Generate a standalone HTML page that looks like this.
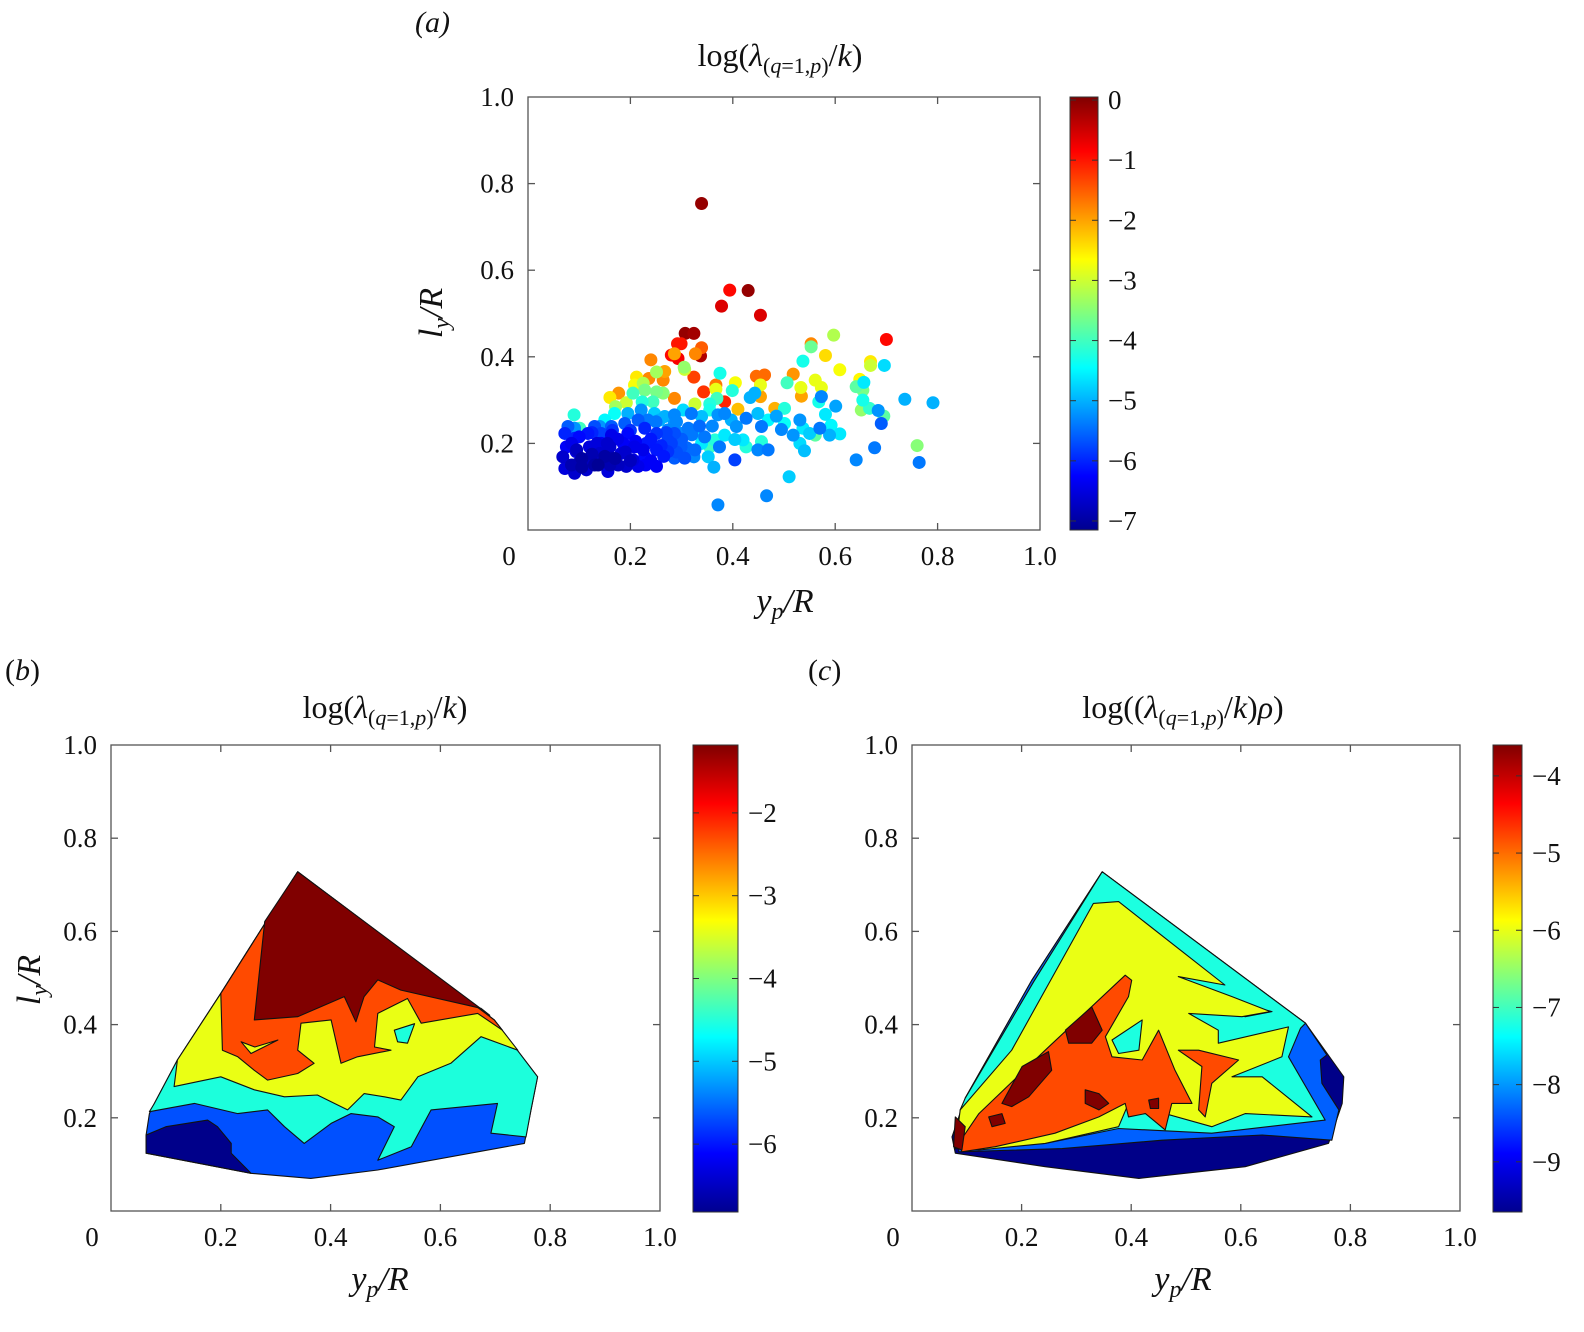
<!DOCTYPE html>
<html><head><meta charset="utf-8"><style>
body{margin:0;background:#fff}
svg text{font-family:"Liberation Serif",serif;fill:#111}
</style></head><body>
<svg id="s" width="1584" height="1327" viewBox="0 0 1584 1327" xmlns="http://www.w3.org/2000/svg">
<defs>
<linearGradient id="jet" x1="0" y1="1" x2="0" y2="0">
<stop offset="0" stop-color="#00008f"/><stop offset="0.125" stop-color="#0000ff"/><stop offset="0.375" stop-color="#00ffff"/><stop offset="0.625" stop-color="#ffff00"/><stop offset="0.875" stop-color="#ff0000"/><stop offset="1" stop-color="#800000"/>
</linearGradient>
<clipPath id="clipa"><rect x="528" y="97" width="512" height="433"/></clipPath>
</defs>
<g id="labels" font-size="30">
<text x="415" y="32" font-style="italic">(<tspan font-style="italic">a</tspan>)</text>
<text x="5" y="680">(<tspan font-style="italic">b</tspan>)</text>
<text x="808" y="680">(<tspan font-style="italic">c</tspan>)</text>
<text x="780" y="66" text-anchor="middle" font-size="32">log(<tspan font-style="italic">λ</tspan><tspan font-size="22" dy="7">(<tspan font-style="italic">q</tspan>=1,<tspan font-style="italic">p</tspan>)</tspan><tspan dy="-7">/</tspan><tspan font-style="italic">k</tspan>)</text>
<text x="385" y="718" text-anchor="middle" font-size="32">log(<tspan font-style="italic">λ</tspan><tspan font-size="22" dy="7">(<tspan font-style="italic">q</tspan>=1,<tspan font-style="italic">p</tspan>)</tspan><tspan dy="-7">/</tspan><tspan font-style="italic">k</tspan>)</text>
<text x="1183" y="718" text-anchor="middle" font-size="32">log((<tspan font-style="italic">λ</tspan><tspan font-size="22" dy="7">(<tspan font-style="italic">q</tspan>=1,<tspan font-style="italic">p</tspan>)</tspan><tspan dy="-7">/</tspan><tspan font-style="italic">k</tspan>)<tspan font-style="italic">ρ</tspan>)</text>
<text x="785" y="612" text-anchor="middle" font-style="italic" font-size="34">y<tspan font-size="24" dy="7">p</tspan><tspan dy="-7">/R</tspan></text>
<text x="380" y="1290" text-anchor="middle" font-style="italic" font-size="34">y<tspan font-size="24" dy="7">p</tspan><tspan dy="-7">/R</tspan></text>
<text x="1183" y="1290" text-anchor="middle" font-style="italic" font-size="34">y<tspan font-size="24" dy="7">p</tspan><tspan dy="-7">/R</tspan></text>
<text transform="translate(442,313) rotate(-90)" text-anchor="middle" font-style="italic" font-size="34">l<tspan font-size="24" dy="7">y</tspan><tspan dy="-7">/R</tspan></text>
<text transform="translate(40,980) rotate(-90)" text-anchor="middle" font-style="italic" font-size="34">l<tspan font-size="24" dy="7">y</tspan><tspan dy="-7">/R</tspan></text>
</g>
</svg>
<script>
// ---- data ----
const xTicks=[0,0.2,0.4,0.6,0.8,1.0];
const xTickLabels=["0","0.2","0.4","0.6","0.8","1.0"];
const yTicks=[0.2,0.4,0.6,0.8,1.0];
const yTickLabels=["0.2","0.4","0.6","0.8","1.0"];
const cbTicksA=[0,-1,-2,-3,-4,-5,-6,-7];
const cbTicksB=[-2,-3,-4,-5,-6];
const cbTicksC=[-4,-5,-6,-7,-8,-9];
const scatterYp=[.339,.394,.430,.378,.454,.307,.324,.292,.299,.339,.280,.286,.293,.327,.337,.700,.553,.553,.597,.581,.537,.609,.669,.669,.696,.240,.305,.306,.267,.251,.375,.324,.212,.236,.264,.446,.462,.518,.405,.367,.454,.506,.561,.648,.656,.208,.225,.228,.177,.160,.192,.205,.251,.286,.343,.367,.384,.399,.454,.434,.443,.533,.573,.534,.573,.641,.654,.736,.791,.171,.223,.244,.264,.326,.355,.369,.410,.482,.501,.568,.601,.654,.651,.667,.684,.695,.581,.090,.150,.169,.195,.221,.247,.267,.286,.303,.319,.339,.355,.371,.384,.397,.407,.426,.449,.456,.469,.485,.501,.495,.531,.537,.518,.550,.570,.589,.609,.592,.561,.531,.540,.456,.449,.469,.420,.426,.404,.384,.374,.365,.352,.355,.339,.324,.326,.313,.299,.286,.273,.257,.234,.215,.189,.163,.140,.091,.101,.404,.363,.510,.466,.371,.641,.677,.760,.764,.690,.072,.075,.068,.072,.091,.098,.094,.091,.117,.120,.117,.114,.137,.140,.143,.163,.160,.163,.156,.176,.182,.186,.195,.208,.205,.192,.215,.228,.231,.228,.251,.251,.251,.273,.273,.286,.299,.306,.326,.286,.143,.078,.130,
.085,.105,.125,.130,.150,.155,.170,.190,.200,.210,.225,.240,.240,.260,.265,.280,.290,.300,.310,.320,.085,.100,.125,.165,.200,.105,.135,.175,.230,.270,.095,.160,.345,.360,.335,.290,.250];
const scatterLy=[.754,.554,.553,.517,.496,.454,.454,.430,.430,.421,.404,.407,.396,.407,.402,.440,.430,.423,.450,.403,.390,.370,.389,.380,.380,.393,.376,.371,.366,.365,.362,.353,.353,.350,.346,.355,.358,.360,.340,.335,.335,.340,.346,.348,.341,.335,.339,.323,.316,.306,.294,.316,.319,.304,.319,.325,.296,.322,.308,.306,.316,.329,.329,.309,.308,.331,.323,.302,.294,.285,.296,.296,.316,.291,.291,.304,.279,.281,.281,.296,.286,.300,.277,.281,.276,.263,.267,.266,.254,.269,.269,.277,.269,.262,.266,.277,.269,.262,.277,.266,.269,.254,.239,.258,.269,.239,.254,.263,.246,.232,.254,.235,.219,.223,.235,.219,.222,.242,.219,.200,.183,.204,.185,.185,.208,.192,.209,.219,.192,.208,.169,.192,.200,.169,.223,.235,.223,.246,.231,.254,.254,.254,.246,.239,.239,.235,.235,.162,.145,.123,.079,.058,.162,.190,.195,.156,.246,.223,.192,.169,.142,.131,.154,.181,.212,.223,.192,.162,.139,.150,.177,.200,.219,.192,.166,.135,.150,.177,.200,.223,.192,.162,.147,.147,.169,.200,.235,.223,.185,.147,.181,.208,.166,.192,.166,.185,.223,.223,.239,.239,
.150,.165,.175,.150,.170,.200,.165,.180,.160,.205,.185,.160,.210,.195,.170,.200,.180,.210,.190,.220,.200,.215,.225,.230,.230,.145,.200,.210,.150,.225,.185,.150,.215,.240,.240,.250,.250];
const scatterVal=[-0.1,-0.9,-0.1,-0.6,-0.6,-0.1,-0.2,-1.0,-1.0,-1.5,-0.9,-2.0,-0.8,-1.8,-0.3,-0.9,-1.8,-3.7,-3.2,-2.4,-4.3,-2.7,-2.5,-3.0,-4.7,-1.8,-3.4,-3.0,-2.0,-3.3,-4.3,-1.3,-2.5,-1.8,-1.8,-1.6,-1.6,-1.9,-2.7,-1.7,-2.8,-4.0,-2.8,-2.6,-4.6,-2.7,-3.2,-3.6,-1.9,-2.5,-3.0,-4.0,-3.6,-1.8,-1.2,-2.8,-1.1,-4.2,-2.0,-5.0,-5.0,-2.8,-2.8,-2.0,-5.3,-3.8,-3.6,-5.0,-5.0,-3.3,-4.2,-4.0,-3.5,-3.0,-4.2,-4.0,-2.2,-2.1,-4.2,-4.3,-5.1,-4.3,-3.4,-4.1,-5.2,-3.8,-4.6,-4.2,-4.5,-4.4,-5.0,-5.2,-4.8,-5.0,-5.3,-4.7,-5.4,-4.9,-4.3,-5.2,-5.3,-5.0,-5.2,-5.4,-4.9,-5.4,-4.5,-5.1,-4.4,-5.3,-5.2,-4.6,-5.2,-4.8,-5.4,-5.0,-4.6,-4.5,-3.8,-4.7,-4.9,-4.2,-5.3,-5.4,-4.6,-4.2,-4.8,-4.6,-5.4,-4.2,-4.8,-4.0,-4.6,-5.3,-4.7,-5.4,-5.3,-5.2,-5.3,-5.0,-5.4,-5.6,-5.6,-5.6,-5.2,-5.2,-4.0,-5.8,-5.0,-4.8,-5.3,-5.3,-5.3,-5.4,-3.5,-5.4,-5.6,-6.0,-6.3,-6.6,-6.5,-6.6,-6.7,-6.5,-6.0,-6.1,-6.5,-6.7,-6.6,-7.0,-6.6,-6.3,-6.4,-6.6,-6.8,-6.5,-6.7,-6.5,-6.3,-6.2,-6.4,-6.5,-6.6,-6.4,-6.2,-6.1,-6.0,-5.9,-6.1,-6.3,-5.9,-5.8,-5.6,-5.6,-5.7,-5.5,-5.7,-5.8,-5.6,-5.7,
-6.8,-6.9,-6.8,-6.9,-6.9,-6.6,-6.9,-6.6,-6.7,-6.3,-6.4,-6.3,-6.1,-6.0,-6.1,-5.8,-5.7,-5.6,-5.5,-5.4,-6.4,-6.2,-6.0,-5.9,-5.9,-6.9,-6.5,-6.4,-6.3,-5.8,-6.7,-6.8,-5.4,-5.3,-5.5,-5.3,-5.4];
// contour layers panel b: [yp, ly] vertices
const bHull=[[.064,.163],[.064,.124],[.255,.081],[.364,.070],[.486,.088],[.753,.145],[.765,.217],[.777,.288],[.698,.410],[.340,.728],[.200,.467],[.121,.324],[.079,.231],[.070,.209]];
const bNavy=[[.064,.163],[.100,.181],[.176,.195],[.194,.181],[.219,.145],[.219,.124],[.255,.081],[.064,.124]];
const bCyan=[[.070,.213],[.152,.231],[.231,.209],[.285,.217],[.316,.181],[.352,.145],[.401,.188],[.437,.209],[.486,.202],[.516,.181],[.486,.109],[.547,.138],[.583,.217],[.704,.231],[.692,.167],[.756,.159],[.765,.217],[.777,.288],[.698,.410],[.340,.728],[.200,.467],[.121,.324],[.079,.231]];
const bYellow=[[.115,.267],[.200,.288],[.261,.260],[.316,.245],[.376,.249],[.431,.217],[.461,.252],[.498,.245],[.528,.238],[.559,.288],[.619,.317],[.674,.374],[.741,.345],[.698,.410],[.340,.728],[.200,.467],[.121,.324]];
const bCyanHole=[[.516,.388],[.553,.402],[.540,.360],[.522,.363]];
const bOrange=[[.200,.467],[.203,.345],[.231,.331],[.261,.302],[.285,.281],[.340,.295],[.370,.317],[.340,.345],[.346,.403],[.401,.410],[.419,.317],[.449,.331],[.510,.345],[.480,.352],[.486,.424],[.540,.456],[.565,.403],[.668,.424],[.713,.388],[.698,.410],[.340,.728]];
const bYellowHole=[[.237,.363],[.255,.338],[.304,.367],[.262,.352]];
const bRed=[[.280,.621],[.261,.410],[.340,.417],[.425,.460],[.446,.406],[.461,.460],[.486,.496],[.528,.474],[.674,.435],[.690,.420],[.340,.728]];
// contour layers panel c
const cHull=[[.097,.242],[.219,.496],[.347,.728],[.718,.403],[.788,.288],[.785,.231],[.760,.145],[.608,.095],[.414,.070],[.243,.095],[.079,.124],[.073,.159]];
const cBlue=[[.085,.127],[.274,.134],[.456,.152],[.639,.163],[.766,.152],[.779,.217],[.748,.274],[.745,.324],[.757,.335],[.718,.403],[.347,.728],[.219,.496],[.097,.242]];
const cCyan=[[.088,.138],[.243,.145],[.377,.177],[.547,.167],[.754,.195],[.687,.331],[.709,.392],[.718,.403],[.347,.728],[.222,.492],[.097,.242],[.088,.217]];
const cBlueHole=[[.560,.456],[.657,.428],[.608,.417],[.566,.442]];
const cYellow=[[.079,.134],[.088,.217],[.182,.345],[.331,.660],[.377,.664],[.571,.485],[.486,.503],[.584,.460],[.654,.428],[.602,.417],[.505,.424],[.559,.388],[.559,.360],[.687,.395],[.675,.331],[.584,.288],[.639,.288],[.730,.202],[.608,.209],[.547,.181],[.395,.231],[.377,.181],[.243,.145],[.122,.131]];
const cCyanHole=[[.365,.367],[.420,.410],[.414,.345],[.377,.338]];
const cOrange=[[.085,.145],[.122,.209],[.243,.345],[.389,.506],[.401,.495],[.395,.460],[.353,.374],[.365,.331],[.420,.324],[.450,.388],[.480,.302],[.511,.231],[.474,.231],[.462,.174],[.426,.209],[.395,.202],[.389,.231],[.341,.202],[.261,.167],[.152,.138],[.091,.127]];
const cOrange2=[[.523,.345],[.596,.324],[.547,.274],[.535,.202],[.523,.217],[.529,.310],[.486,.345]];
const cRedA=[[.280,.388],[.328,.438],[.347,.388],[.328,.360],[.286,.360]];
const cRedB=[[.164,.231],[.201,.310],[.249,.342],[.255,.302],[.213,.245],[.182,.224]];
const cRedC=[[.140,.202],[.164,.209],[.170,.188],[.146,.181]];
const cRedD=[[.079,.202],[.097,.181],[.091,.131],[.076,.138]];
const cRedE=[[.316,.260],[.341,.252],[.359,.231],[.341,.217],[.316,.231]];
const cRedF=[[.432,.238],[.450,.242],[.450,.220],[.435,.220]];

const NS='http://www.w3.org/2000/svg';
const svg=document.getElementById('s');
function mk(tag,attrs,parent){const e=document.createElementNS(NS,tag);for(const k in attrs)e.setAttribute(k,attrs[k]);(parent||svg).appendChild(e);return e;}
function jet(t){t=Math.max(0,Math.min(1,t));const c=v=>Math.round(255*Math.max(0,Math.min(1,v)));return `rgb(${c(1.5-Math.abs(4*t-3))},${c(1.5-Math.abs(4*t-2))},${c(1.5-Math.abs(4*t-1))})`;}
function scale(P){P.X=v=>P.x0+v*(P.x1-P.x0);P.Y=v=>P.y1-v*(P.y1-P.y0);return P;}

function axes(P,name){
  const g=mk('g',{});
  
  
  const X=P.X, Y=P.Y;
  const fr=mk('rect',{x:P.x0,y:P.y0,width:P.x1-P.x0,height:P.y1-P.y0,fill:'none',stroke:'#555','stroke-width':1.3},g);
  
  
  xTicks.forEach((v,i)=>{
    if(v>0&&v<1){mk('line',{x1:X(v),x2:X(v),y1:P.y1,y2:P.y1-7,stroke:'#555','stroke-width':1.3},g);mk('line',{x1:X(v),x2:X(v),y1:P.y0,y2:P.y0+7,stroke:'#555','stroke-width':1.3},g);}
    const t=mk('text',{x:i==0?X(v)-19:X(v),y:P.y1+35,'text-anchor':'middle','font-size':27},g);
    t.textContent=xTickLabels[i];
    
    
  });
  yTicks.forEach((v,i)=>{
    if(v<1){mk('line',{x1:P.x0,x2:P.x0+7,y1:Y(v),y2:Y(v),stroke:'#555','stroke-width':1.3},g);mk('line',{x1:P.x1,x2:P.x1-7,y1:Y(v),y2:Y(v),stroke:'#555','stroke-width':1.3},g);}
    const t=mk('text',{x:P.x0-14,y:Y(v)+9,'text-anchor':'end','font-size':27},g);
    t.textContent=yTickLabels[i];
    
    
  });
  return g;
}
function colorbar(C,ticks,name){
  const g=mk('g',{});
  
  
  mk('rect',{x:C.x,y:C.y0,width:C.w,height:C.y1-C.y0,fill:'url(#jet)',stroke:'#333','stroke-width':1},g);
  const Y=v=>C.y1-(v-C.vmin)/(C.vmax-C.vmin)*(C.y1-C.y0);
  ticks.forEach(v=>{
    mk('line',{x1:C.x,x2:C.x+6,y1:Y(v),y2:Y(v),stroke:'#333'},g);
    mk('line',{x1:C.x+C.w,x2:C.x+C.w-6,y1:Y(v),y2:Y(v),stroke:'#333'},g);
    const t=mk('text',{x:C.x+C.w+10,y:Y(v)+9,'font-size':27},g);
    t.textContent=v===0?'0':'\u2212'+Math.abs(v);
    
    
  });
}
function poly(P,pts,fill,g,name){
  const d=pts.map(p=>P.X(p[0]).toFixed(1)+','+P.Y(p[1]).toFixed(1)).join(' ');
  const e=mk('polygon',{points:d,fill:fill,stroke:'#111','stroke-width':1.1,'stroke-linejoin':'round'},g);
  
  
}

// Panel a
const A=scale({x0:528,x1:1040,y0:97,y1:530});
axes(A,'panel-a-axes');
const CA={x:1070,w:28,y0:97,y1:530,vmin:-7.15,vmax:0.05};
const ga=mk('g',{'clip-path':'url(#clipa)'});


const order=scatterVal.map((v,i)=>i).sort((a,b)=>scatterVal[b]-scatterVal[a]);
order.forEach(i=>{
  const c=mk('circle',{cx:A.X(scatterYp[i]),cy:A.Y(scatterLy[i]),r:6.5,fill:jet((scatterVal[i]-CA.vmin)/(CA.vmax-CA.vmin))},ga);
  
  
});
colorbar(CA,cbTicksA,'panel-a-colorbar');

// Panel b
const B=scale({x0:111,x1:660,y0:745,y1:1211});
const gb=mk('g',{});


poly(B,bHull,'#0050ff',gb,'contour-blue');
poly(B,bNavy,'#00008a',gb,'contour-navy');
poly(B,bCyan,'#1cffdc',gb,'contour-cyan');
poly(B,bYellow,'#eaff14',gb,'contour-yellow');
poly(B,bCyanHole,'#1cffdc',gb,'contour-cyan-island');
poly(B,bOrange,'#ff4a00',gb,'contour-orange');
poly(B,bYellowHole,'#eaff14',gb,'contour-yellow-island');
poly(B,bRed,'#800000',gb,'contour-dark-red');
axes(B,'panel-b-axes');
colorbar({x:693,w:45,y0:745,y1:1212,vmin:-6.82,vmax:-1.18},cbTicksB,'panel-b-colorbar');

// Panel c
const Cp=scale({x0:912,x1:1460,y0:745,y1:1211});
const gc=mk('g',{});


poly(Cp,cHull,'#000088',gc,'contour-navy');
poly(Cp,cBlue,'#0060ff',gc,'contour-blue');
poly(Cp,cCyan,'#1cffe0',gc,'contour-cyan');
poly(Cp,cBlueHole,'#0060ff',gc,'contour-blue-island');
poly(Cp,cYellow,'#eaff14',gc,'contour-yellow');
poly(Cp,cCyanHole,'#1cffe0',gc,'contour-cyan-island');
poly(Cp,cOrange,'#ff4a00',gc,'contour-orange');
poly(Cp,cOrange2,'#ff4a00',gc,'contour-orange-island');
[cRedA,cRedB,cRedC,cRedD,cRedE,cRedF].forEach(p=>poly(Cp,p,'#800000',gc,'contour-dark-red'));
axes(Cp,'panel-c-axes');
colorbar({x:1493,w:29,y0:745,y1:1212,vmin:-9.65,vmax:-3.6},cbTicksC,'panel-c-colorbar');
</script>
</body></html>
